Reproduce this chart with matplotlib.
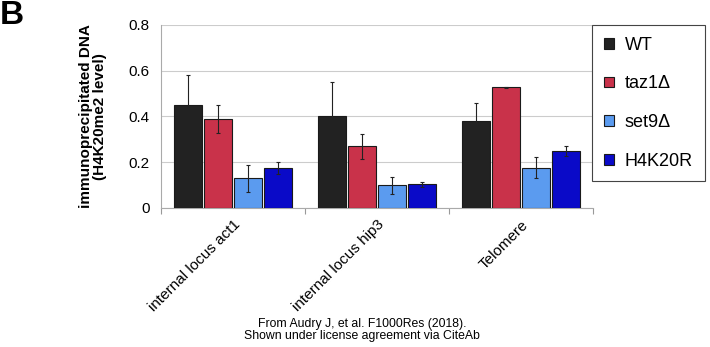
import numpy as np
import matplotlib.pyplot as plt

plt.rcParams["font.family"] = ["Liberation Sans", "DejaVu Sans"]

# ---- data ----
loci = ["internal locus act1", "internal locus hip3", "Telomere"]
strains = ["WT", "taz1Δ", "set9Δ", "H4K20R"]

wt = [0.45, 0.40, 0.38]
taz1 = [0.39, 0.27, 0.528]
set9 = [0.13, 0.10, 0.176]
h4k20r = [0.175, 0.103, 0.25]

wt_err = [0.13, 0.15, 0.078]
taz1_err = [0.06, 0.055, 0.003]
set9_err = [0.06, 0.037, 0.045]
h4k20r_err = [0.025, 0.012, 0.022]

colors = ["#222222", "#c9324a", "#5b9bef", "#0a0ac8"]

# ---- plot ----
fig = plt.figure(figsize=(7.10, 3.47), dpi=100)
ax = fig.add_axes([0.2268, 0.4006, 0.6084, 0.5274])

centers = np.arange(len(loci)) + 0.5
step = 0.208
width = 0.194
series = [(wt, wt_err), (taz1, taz1_err), (set9, set9_err), (h4k20r, h4k20r_err)]

handles = []
for k, (vals, errs) in enumerate(series):
    x = centers + (k - 1.5) * step
    b = ax.bar(x, vals, width, color=colors[k], edgecolor="#1a1a1a",
               linewidth=0.8, label=strains[k], zorder=3)
    ax.errorbar(x, vals, yerr=errs, fmt="none", ecolor="#222222",
                elinewidth=0.8, capsize=1.5, capthick=0.8, zorder=4)
    handles.append(b)

ax.set_xlim(0, 3)
ax.set_ylim(0, 0.8)
ax.set_yticks([0, 0.2, 0.4, 0.6, 0.8])
ax.set_yticklabels(["0", "0.2", "0.4", "0.6", "0.8"], fontsize=11)
ax.tick_params(axis="y", length=0, pad=8)

ax.set_xticks(centers)
ax.set_xticklabels(loci, rotation=45, ha="right", rotation_mode="anchor",
                   fontsize=11)
ax.tick_params(axis="x", which="major", length=0, pad=7)
ax.set_xticks([0, 1, 2, 3], minor=True)
ax.tick_params(axis="x", which="minor", length=4, color="#999999", width=0.8)

ax.grid(axis="y", color="#cccccc", linewidth=0.8, zorder=0)
for side in ["top", "right"]:
    ax.spines[side].set_visible(False)
ax.spines["left"].set_color("#aaaaaa")
ax.spines["bottom"].set_color("#aaaaaa")

ax.set_ylabel("immunoprecipitated DNA\n(H4K20me2 level)", fontsize=11,
              fontweight="bold", labelpad=16, linespacing=1.0)

leg = fig.legend(handles=handles, loc="upper left",
                 bbox_to_anchor=(0.834, 0.928), fontsize=13, frameon=True,
                 fancybox=False, framealpha=1.0, handlelength=0.55,
                 handleheight=0.55, handletextpad=0.6, labelspacing=1.2,
                 borderpad=0.65, borderaxespad=0)
leg.get_frame().set_edgecolor("#444444")
leg.get_frame().set_linewidth(0.8)

fig.text(0.0, 1.0, "B", fontsize=24, fontweight="bold", ha="left", va="top")
fig.text(0.51, 0.05, "From Audry J, et al. F1000Res (2018).\nShown under license agreement via CiteAb",
         ha="center", va="center", fontsize=8.8, linespacing=1.0)

fig.savefig("out.png", dpi=100)
